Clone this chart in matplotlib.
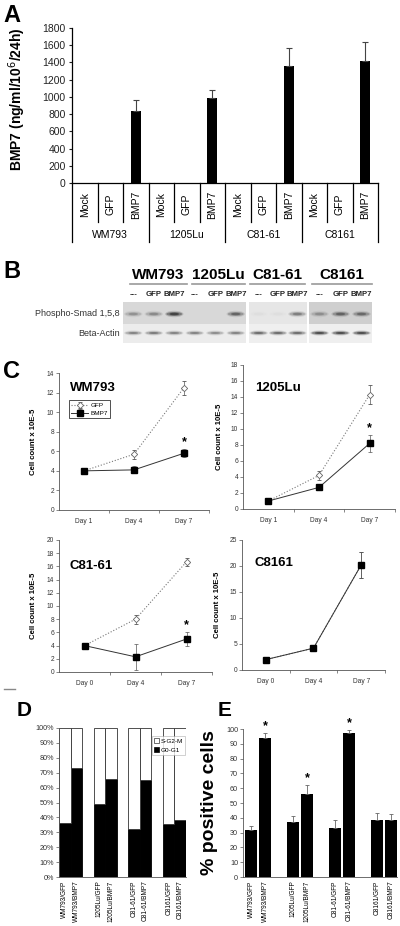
import matplotlib
matplotlib.use('Agg')
import matplotlib.pyplot as plt
from matplotlib.patches import Rectangle, Ellipse, Patch

plt.rcParams['font.family'] = ['Liberation Sans', 'DejaVu Sans']

# ---------------- data ----------------
# Panel A
groups_A = ['WM793', '1205Lu', 'C81-61', 'C8161']
conds_A = ['Mock', 'GFP', 'BMP7']
mock_A = [0, 0, 0, 0]
gfp_A = [0, 0, 0, 0]
bmp7_A = [840, 990, 1360, 1420]
bmp7_A_err = [120, 90, 210, 220]
yticks_A = [0, 200, 400, 600, 800, 1000, 1200, 1400, 1600, 1800]

# Panel B (western blot, relative band intensities 0..1)
blot_groups = ['WM793', '1205Lu', 'C81-61', 'C8161']
blot_lanes = ['---', 'GFP', 'BMP7']
phospho_band = [0.35, 0.4, 0.95, 0.0, 0.0, 0.65, 0.03, 0.03, 0.5, 0.35, 0.65, 0.6]
actin_band = [0.5, 0.55, 0.5, 0.5, 0.45, 0.5, 0.65, 0.65, 0.65, 0.9, 0.9, 0.9]
blot_rows = ['Phospho-Smad 1,5,8', 'Beta-Actin']

# Panel C
c_titles = ['WM793', '1205Lu', 'C81-61', 'C8161']
c_days = [['Day 1', 'Day 4', 'Day 7'], ['Day 1', 'Day 4', 'Day 7'],
          ['Day 0', 'Day 4', 'Day 7'], ['Day 0', 'Day 4', 'Day 7']]
gfp_C = [[4.0, 5.7, 12.5], [1.0, 4.2, 14.3], [4.0, 8.0, 16.7], [2.0, 4.2, 20.2]]
gfp_C_err = [[0.1, 0.45, 0.7], [0.1, 0.6, 1.2], [0.1, 0.7, 0.6], [0.1, 0.6, 2.5]]
bmp7_C = [[4.0, 4.1, 5.8], [1.0, 2.7, 8.2], [4.0, 2.3, 5.0], [2.0, 4.2, 20.2]]
bmp7_C_err = [[0.1, 0.35, 0.4], [0.1, 0.3, 1.1], [0.1, 2.0, 1.1], [0.1, 0.6, 2.5]]
c_star = [6.9, 10.1, 7.1, None]
c_ymax = [14, 18, 20, 25]
c_ystep = [2, 2, 2, 5]

# Panel D
d_labels = ['WM793/GFP', 'WM793/BMP7', '1205Lu/GFP', '1205Lu/BMP7',
            'C81-61/GFP', 'C81-61/BMP7', 'C8161/GFP', 'C8161/BMP7']
g0g1 = [36, 73, 49, 65.5, 32.5, 65, 35.5, 38.5]
sg2m = [64, 27, 51, 34.5, 67.5, 35, 64.5, 61.5]

# Panel E
e_vals = [31.5, 94, 37, 56, 33, 97, 38.5, 38.5]
e_err = [3, 3, 4.5, 6, 5.5, 2, 5, 4]
e_sig = [False, True, False, True, False, True, False, False]

# ---------------- figure ----------------
W, H = 400, 926
fig = plt.figure(figsize=(4, 9.26), dpi=100)


def px_axes(l, t, r, b):
    return fig.add_axes([l / W, 1 - b / H, (r - l) / W, (b - t) / H])


# ---------- Panel A ----------
axA = px_axes(72, 28, 378, 183)
nA = len(groups_A) * len(conds_A)
series_A = [mock_A, gfp_A, bmp7_A]
for ci, vals in enumerate(series_A):
    xs = [gi * 3 + ci for gi in range(len(groups_A))]
    if ci == 2:
        axA.bar(xs, vals, width=0.4, color='black',
                yerr=[[0] * len(vals), bmp7_A_err], ecolor='#444444',
                error_kw=dict(elinewidth=0.8, capsize=2, capthick=0.8))
    else:
        axA.bar(xs, vals, width=0.4, color='black')
axA.set_xlim(-0.5, nA - 0.5)
axA.set_ylim(0, 1800)
axA.set_yticks(yticks_A)
axA.tick_params(axis='y', labelsize=7.5, length=2.5, width=0.8, pad=2, colors='#222222')
axA.set_xticks([])
for s in ['top', 'right']:
    axA.spines[s].set_visible(False)
for s in ['left', 'bottom']:
    axA.spines[s].set_linewidth(0.9)
axA.set_ylabel('BMP7 (ng/ml/10$^{6}$/24h)', fontsize=10, fontweight='bold')
axA.yaxis.set_label_coords(-0.145, 0.54)
trA = axA.get_xaxis_transform()
for k in range(nA + 1):
    xb = k - 0.5
    ylow = -0.38 if k % 3 == 0 else -0.25
    axA.plot([xb, xb], [0, ylow], color='black', lw=0.9, transform=trA, clip_on=False)
for gi, g in enumerate(groups_A):
    for ci, c in enumerate(conds_A):
        axA.text(gi * 3 + ci, -0.14, c, rotation=90, ha='center', va='center',
                 fontsize=7.5, transform=trA)
    axA.text(gi * 3 + 1, -0.335, g, ha='center', va='center', fontsize=7.5, transform=trA)

# ---------- Panel C ----------
c_boxes = [(59, 373, 209, 510), (243, 365, 395, 509), (59, 540, 212, 672), (242, 540, 385, 670)]
c_title_pos = [(0.07, 0.89), (0.08, 0.84), (0.07, 0.80), (0.09, 0.82)]
c_ylab_x = [-0.147, -0.13, -0.144, -0.147]
for i in range(4):
    ax = px_axes(*c_boxes[i])
    ax.set_facecolor('none')
    x = list(range(3))
    ax.errorbar(x, gfp_C[i], yerr=gfp_C_err[i], color='#777777', ls=':', lw=0.8,
                marker='D', ms=3.2, mfc='white', mec='#666666', mew=0.6,
                ecolor='#555555', elinewidth=0.5, capsize=1.5, capthick=0.5,
                label='GFP', zorder=2)
    ax.errorbar(x, bmp7_C[i], yerr=bmp7_C_err[i], color='#333333', ls='-', lw=0.7,
                marker='s', ms=4, mfc='black', mec='black',
                ecolor='#555555', elinewidth=0.5, capsize=1.5, capthick=0.5,
                label='BMP7', zorder=3)
    if c_star[i] is not None:
        ax.text(2, c_star[i], '*', ha='center', va='center', fontsize=9, fontweight='bold')
    ax.set_xlim(-0.5, 2.5)
    ax.set_ylim(0, c_ymax[i])
    ax.set_yticks(list(range(0, c_ymax[i] + 1, c_ystep[i])))
    ax.set_xticks([0.5, 1.5, 2.5], minor=False)
    ax.set_xticklabels([])
    ax.set_xticks(x, minor=True)
    ax.set_xticklabels(c_days[i], minor=True)
    ax.tick_params(axis='x', which='minor', length=0, labelsize=4.8, pad=6)
    ax.tick_params(axis='x', which='major', length=2, width=0.5, colors='#555555')
    ax.tick_params(axis='y', labelsize=4.8, length=2, width=0.5, pad=1.5, colors='#555555',
                   labelcolor='#333333')
    ax.tick_params(axis='x', which='minor', labelcolor='#333333')
    for s in ['top', 'right']:
        ax.spines[s].set_visible(False)
    for s in ['left', 'bottom']:
        ax.spines[s].set_linewidth(0.6)
        ax.spines[s].set_color('#555555')
    ax.set_ylabel('Cell count x 10E-5', fontsize=5.6, fontweight='bold')
    ax.yaxis.set_label_coords(c_ylab_x[i], 0.5)
    ax.text(*c_title_pos[i], c_titles[i], transform=ax.transAxes, fontsize=9.5,
            fontweight='bold', ha='left', va='center')
    if i == 0:
        leg = ax.legend(loc='upper left', bbox_to_anchor=(0.067, 0.80), fontsize=4.6,
                        frameon=True, fancybox=False, edgecolor='black',
                        handlelength=2.6, borderpad=0.35, labelspacing=0.35,
                        handletextpad=0.4, borderaxespad=0)
        leg.get_frame().set_linewidth(0.6)

# ---------- Panel D ----------
axD = px_axes(59, 728, 186, 877)
xd = [(k // 2) * 3 + (k % 2) for k in range(len(d_labels))]
axD.bar(xd, g0g1, width=1.0, color='black', edgecolor='black', lw=0.6, label='G0-G1')
axD.bar(xd, sg2m, width=1.0, bottom=g0g1, color='white', edgecolor='#333333', lw=0.6,
        label='S-G2-M')
axD.set_xlim(-0.5, 10.5)
axD.set_ylim(0, 100)
axD.set_yticks(list(range(0, 101, 10)))
axD.set_yticklabels([f'{v}%' for v in range(0, 101, 10)])
axD.set_xticks(xd)
axD.set_xticklabels(d_labels, rotation=90, fontsize=4.7)
axD.tick_params(axis='x', length=0, pad=2.5)
axD.tick_params(axis='y', labelsize=5.2, length=2, width=0.5, pad=1.5, colors='#555555',
                labelcolor='#333333')
for s in ['top', 'right']:
    axD.spines[s].set_visible(False)
for s in ['left', 'bottom']:
    axD.spines[s].set_linewidth(0.6)
    axD.spines[s].set_color('#555555')
hD = [Patch(facecolor='white', edgecolor='#333333', lw=0.5, label='S-G2-M'),
      Patch(facecolor='black', edgecolor='black', lw=0.5, label='G0-G1')]
legD = axD.legend(handles=hD, loc='upper left', bbox_to_anchor=(0.73, 0.945), fontsize=4.6,
                  frameon=True, fancybox=False, edgecolor='#999999', handlelength=0.8,
                  handleheight=0.8, borderpad=0.3, labelspacing=0.5, handletextpad=0.3,
                  borderaxespad=0)
legD.get_frame().set_linewidth(0.4)

# ---------- Panel E ----------
axE = px_axes(243, 729, 397, 877)
xe = [(k // 2) * 3 + (k % 2) for k in range(len(d_labels))]
axE.bar(xe, e_vals, width=0.85, color='black',
        yerr=[[0] * len(e_err), e_err], ecolor='#666666',
        error_kw=dict(elinewidth=0.6, capsize=1.5, capthick=0.6))
for k in range(len(e_vals)):
    if e_sig[k]:
        axE.text(xe[k], e_vals[k] + e_err[k] + 5, '*', ha='center', va='center',
                 fontsize=9, fontweight='bold', clip_on=False)
axE.set_xlim(-0.6, 10.45)
axE.set_ylim(0, 100)
axE.set_yticks(list(range(0, 101, 10)))
axE.set_xticks(xe)
axE.set_xticklabels(d_labels, rotation=90, fontsize=4.7)
axE.tick_params(axis='x', length=0, pad=2.5)
axE.tick_params(axis='y', labelsize=5.2, length=2, width=0.5, pad=1.5, colors='#555555',
                labelcolor='#333333')
for s in ['top', 'right']:
    axE.spines[s].set_visible(False)
for s in ['left', 'bottom']:
    axE.spines[s].set_linewidth(0.6)
    axE.spines[s].set_color('#555555')
axE.set_ylabel('% positive cells', fontsize=14, fontweight='bold')
axE.yaxis.set_label_coords(-0.16, 0.5)

# ---------- Overlay: panel letters and blot (Panel B) ----------
ov = fig.add_axes([0, 0, 1, 1], zorder=10)
ov.set_xlim(0, W)
ov.set_ylim(H, 0)
ov.axis('off')
for letter, (lx, ly, fs) in zip('ABCDE', [(12, 16, 17), (12, 272, 17), (12, 371, 17),
                                           (24, 710, 15), (225, 710, 15)]):
    ov.text(lx, ly, letter, fontsize=fs, fontweight='bold', ha='center', va='center')
ov.plot([4, 15], [689, 689], color='#888888', lw=1)

# blot panels: (left, right, first lane index, n lanes, phospho bg, actin bg)
blot_panels = [(123, 246, 0, 6, '#d8d8d8', '#ececec'),
               (249, 307, 6, 3, '#e6e6e6', '#efefef'),
               (309, 372, 9, 3, '#cfcfcf', '#efefef')]
row_top, row_mid, row_bot = 302, 324, 343
lane_x = []
for (l, r, i0, n, bg1, bg2) in blot_panels:
    ov.add_patch(Rectangle((l, row_top), r - l, row_mid - row_top, color=bg1, lw=0))
    ov.add_patch(Rectangle((l, row_mid), r - l, row_bot - row_mid, color=bg2, lw=0))
    step = (r - l) / n
    for j in range(n):
        lane_x.append(l + step * (j + 0.5))
for j, cx in enumerate(lane_x):
    for (vals, yc, hgt) in [(phospho_band, 314, 4.0), (actin_band, 333, 3.2)]:
        a = vals[j]
        if a > 0:
            for grow, af in [(1.6, 0.25), (1.0, 0.6), (0.6, 0.9)]:
                ov.add_patch(Ellipse((cx, yc), 16 * min(grow, 1.15), hgt * grow,
                                     color='#202020', alpha=min(1, a * af * 0.7), lw=0))
ov.text(120, 314, blot_rows[0], ha='right', va='center', fontsize=6.5, color='#333333')
ov.text(120, 333, blot_rows[1], ha='right', va='center', fontsize=6.5, color='#333333')
grp_lines = [(130, 187), (192, 245), (250, 305), (312, 372)]
for gi, g in enumerate(blot_groups):
    a, b = grp_lines[gi]
    ov.text((a + b) / 2, 275, g, ha='center', va='center', fontsize=11, fontweight='bold')
    ov.plot([a, b], [284, 284], color='#999999', lw=1.2)
    for j, lab in enumerate(blot_lanes):
        ov.text(lane_x[gi * 3 + j], 295, lab, ha='center', va='center', fontsize=5.6,
                fontweight='bold', color='#222222')

fig.savefig('out.png', dpi=100)
